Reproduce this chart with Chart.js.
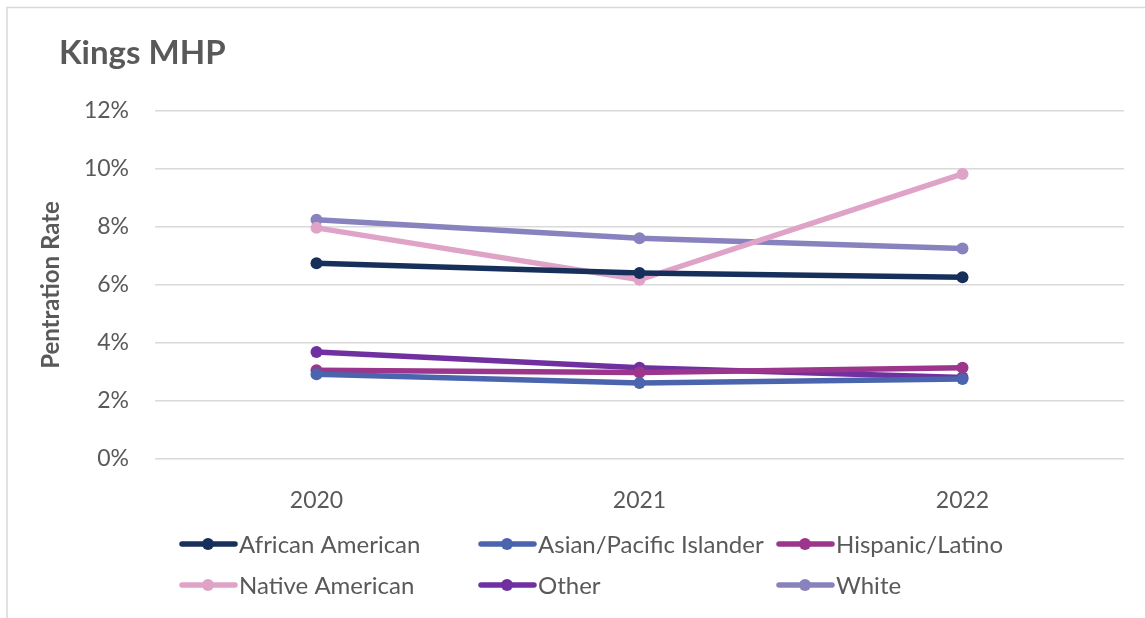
<!DOCTYPE html>
<html>
<head>
<meta charset="utf-8">
<script src="https://cdn.jsdelivr.net/npm/chart.js@4/dist/chart.umd.min.js"></script>
<style>
  html, body { margin: 0; padding: 0; background: #fff; }
  #wrap { width: 1145px; height: 618px; position: relative; }
</style>
</head>
<body>
<div id="wrap"><canvas id="penChart" width="1145" height="618"></canvas></div>
<script>
const years = ['2020', '2021', '2022'];
const groupNames = ['African American', 'Asian/Pacific Islander', 'Hispanic/Latino', 'Native American', 'Other', 'White'];
const groupColors = ['#17305b', '#4a65ad', '#9b368c', '#e0a3c8', '#7030a0', '#8883be'];

// penetration rate, percent
const africanAmerican = [6.75, 6.41, 6.27];
const asianPacific = [2.92, 2.62, 2.76];
const hispanicLatino = [3.06, 2.98, 3.15];
const nativeAmerican = [7.97, 6.18, 9.83];
const other = [3.69, 3.15, 2.81];
const white = [8.25, 7.61, 7.26];

const yTicks = [0, 2, 4, 6, 8, 10, 12];

const seriesValues = [africanAmerican, asianPacific, hispanicLatino, nativeAmerican, other, white];
const FONT = 'Lato, "Open Sans", sans-serif';
const TEXT = '#595959';

const datasets = seriesValues.map((vals, i) => ({
    label: groupNames[i],
    data: vals,
    borderColor: groupColors[i],
    backgroundColor: groupColors[i],
    borderWidth: 5.5,
    pointRadius: 6,
    pointBorderWidth: 0,
    tension: 0
}));

// frame, title and the two-row legend
const decor = {
    id: 'decor',
    afterDraw(chart) {
        const ctx = chart.ctx;
        ctx.save();
        ctx.strokeStyle = '#d9d9d9';
        ctx.lineWidth = 1.5;
        ctx.beginPath();
        ctx.moveTo(7, 618);
        ctx.lineTo(7, 7.5);
        ctx.lineTo(1145, 7.5);
        ctx.stroke();

        ctx.fillStyle = TEXT;
        ctx.font = 'bold 33px ' + FONT;
        ctx.textBaseline = 'middle';
        ctx.textAlign = 'left';
        ctx.fillText('Kings MHP', 59, 53);

        const colX = [180, 479, 777];
        const rowY = [544, 585];
        ctx.font = '24px ' + FONT;
        chart.data.datasets.forEach((ds, i) => {
            const x = colX[i % 3];
            const y = rowY[Math.floor(i / 3)];
            ctx.strokeStyle = ds.borderColor;
            ctx.fillStyle = ds.borderColor;
            ctx.lineWidth = 5.5;
            ctx.lineCap = 'round';
            ctx.beginPath();
            ctx.moveTo(x + 2, y);
            ctx.lineTo(x + 55, y);
            ctx.stroke();
            ctx.beginPath();
            ctx.arc(x + 28, y, 6, 0, Math.PI * 2);
            ctx.fill();
            ctx.fillStyle = TEXT;
            ctx.fillText(ds.label, x + 59, y + 1);
        });
        ctx.restore();
    }
};

new Chart(document.getElementById('penChart'), {
    type: 'line',
    data: { labels: years, datasets: datasets },
    options: {
        responsive: false,
        animation: false,
        layout: { padding: { left: 29, right: 21, top: 111, bottom: 0 } },
        plugins: {
            legend: { display: false },
            tooltip: { enabled: false }
        },
        scales: {
            x: {
                offset: true,
                grid: { display: false },
                border: { display: false },
                ticks: { color: TEXT, font: { family: FONT, size: 23 }, padding: 20 },
                afterFit(scale) { scale.height = 618 - 459; }
            },
            y: {
                min: 0,
                max: 12,
                afterBuildTicks(scale) { scale.ticks = yTicks.map(v => ({ value: v })); },
                grid: { color: '#d9d9d9', lineWidth: 1.5, drawTicks: false },
                border: { display: false },
                ticks: {
                    color: TEXT,
                    font: { family: FONT, size: 23 },
                    padding: 26,
                    callback: v => v + '%'
                },
                title: {
                    display: true,
                    text: 'Pentration Rate',
                    color: TEXT,
                    font: { family: FONT, size: 24, weight: 'bold' },
                    padding: { top: 8, bottom: 0 }
                },
                afterFit(scale) { scale.width = 155 - 29; }
            }
        }
    },
    plugins: [decor]
});
</script>
</body>
</html>
